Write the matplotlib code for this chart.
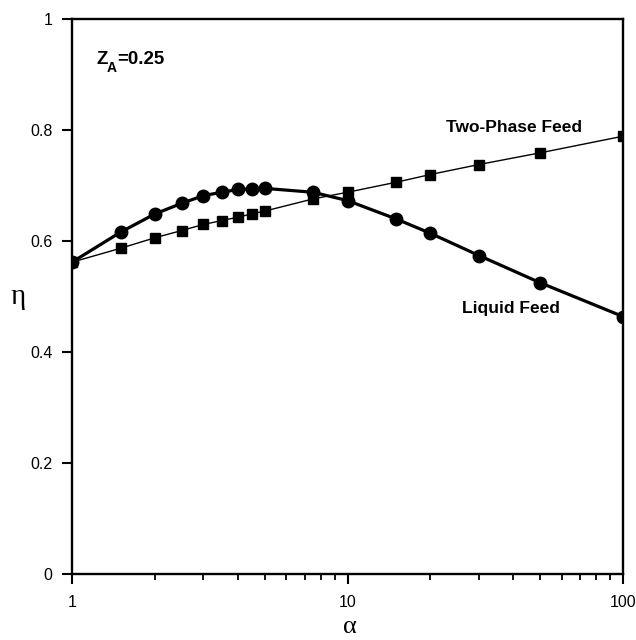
import matplotlib.pyplot as plt
from matplotlib.ticker import FixedLocator, LogLocator, NullFormatter

# relative volatility values (alpha) used for both feeds
alpha = [1, 1.5, 2, 2.5, 3, 3.5, 4, 4.5, 5, 7.5, 10, 15, 20, 30, 50, 100]

# efficiency eta for liquid feed
eta_liquid = [0.562, 0.616, 0.649, 0.668, 0.682, 0.688, 0.693, 0.694, 0.695,
              0.688, 0.673, 0.640, 0.614, 0.574, 0.525, 0.464]

# efficiency eta for two-phase feed
eta_two_phase = [0.562, 0.587, 0.606, 0.619, 0.630, 0.637, 0.643, 0.649, 0.654,
                 0.676, 0.688, 0.706, 0.720, 0.738, 0.759, 0.789]

y_ticks = [0, 0.2, 0.4, 0.6, 0.8, 1]
y_tick_labels = ['0', '0.2', '0.4', '0.6', '0.8', '1']
x_ticks = [1, 10, 100]
x_tick_labels = ['1', '10', '100']

plt.rcParams['font.family'] = ['Liberation Sans', 'DejaVu Sans']

fig = plt.figure(figsize=(6.36, 6.40), dpi=100)
ax = fig.add_axes([0.1132, 0.1031, 0.8664, 0.867])

ax.plot(alpha, eta_two_phase, '-', color='black', linewidth=1.0,
        marker='s', markersize=7, zorder=3)
ax.plot(alpha, eta_liquid, '-', color='black', linewidth=2.3,
        marker='o', markersize=9, zorder=4)

ax.set_xscale('log')
ax.set_xlim(1, 100)
ax.set_ylim(0, 1)

ax.xaxis.set_major_locator(FixedLocator(x_ticks))
ax.set_xticklabels(x_tick_labels)
ax.xaxis.set_minor_locator(LogLocator(base=10, subs=range(2, 10)))
ax.xaxis.set_minor_formatter(NullFormatter())
ax.set_yticks(y_ticks)
ax.set_yticklabels(y_tick_labels)

ax.tick_params(axis='both', which='major', direction='out', length=7, width=1.5,
               labelsize=11.5)
ax.tick_params(axis='x', which='major', pad=8)
ax.tick_params(axis='y', which='major', pad=7)
ax.tick_params(axis='x', which='minor', direction='out', length=4.5, width=1.3)

for side in ['left', 'bottom', 'right', 'top']:
    ax.spines[side].set_linewidth(1.7)

# axis symbols in an upright serif face
fig.text(350 / 636, 1 - 638 / 640, 'α', fontsize=19, family='Liberation Serif',
         ha='center', va='bottom')
fig.text(18 / 636, 1 - 297 / 640, 'η', fontsize=21, family='Liberation Serif',
         ha='center', va='center')

# Z_A label with a deeper subscript
ax.text(1.23, 0.92, 'Z', fontsize=13.5, fontweight='bold')
ax.text(1.335, 0.905, 'A', fontsize=10, fontweight='bold')
ax.text(1.46, 0.92, '=0.25', fontsize=13.5, fontweight='bold')

ax.text(40.2, 0.805, 'Two-Phase Feed', fontsize=12.5, fontweight='bold',
        ha='center', va='center')
ax.text(39.2, 0.479, 'Liquid Feed', fontsize=12.5, fontweight='bold',
        ha='center', va='center')

fig.savefig('out.png', dpi=100)
